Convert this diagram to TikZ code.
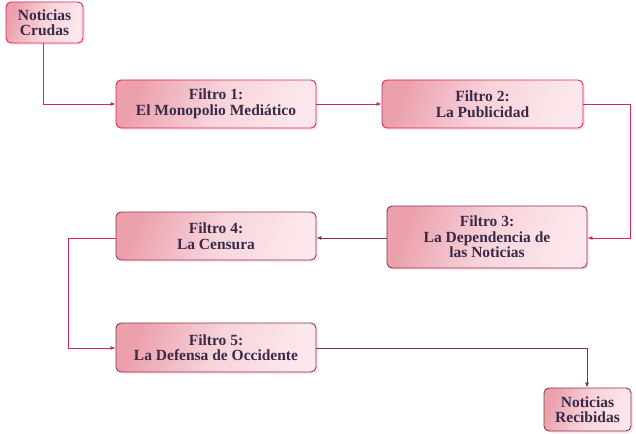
\documentclass[tikz,border=0pt]{standalone}
\usepackage{fontspec}
\setmainfont{Liberation Serif}
\usetikzlibrary{arrows.meta,shadows}
\definecolor{txt}{HTML}{3A2A48}
\definecolor{bordA}{HTML}{D8245E}
\definecolor{bordB}{HTML}{8A3448}
\definecolor{pinkD}{HTML}{EBA0AC}
\definecolor{pinkM}{HTML}{F7D3DA}
\definecolor{pinkL}{HTML}{FCE8EC}
\definecolor{glow}{HTML}{FBE4EE}
\definecolor{lineA}{HTML}{D8245E}
\definecolor{lineB}{HTML}{8A2C44}
\tikzset{
  box/.style={rounded corners=5pt, line width=0.9pt, align=center,
    font=\bfseries\fontsize{15.5}{15.5}\selectfont, text=txt,
    left color=pinkD, right color=pinkL, middle color=pinkM, shading angle=70,
    drop shadow={fill=glow, opacity=1, shadow xshift=2pt, shadow yshift=-2pt},
    inner sep=0pt},
  conA/.style={draw=lineA, line width=0.8pt, -{Latex[length=5pt,width=4pt]}},
  conB/.style={draw=lineB, line width=0.8pt, -{Latex[length=5pt,width=4pt]}},
}
\begin{document}
\begin{tikzpicture}[x=1pt,y=-1pt]
\useasboundingbox (0,0) rectangle (636,433);
\node[box, draw=bordA, minimum width=77pt, minimum height=41pt] (crudas) at (44.5,22.5) {Noticias\\Crudas};
\node[box, draw=bordA, minimum width=200pt, minimum height=48pt] (f1) at (216,104) {Filtro 1:\\El Monopolio Mediático};
\node[box, draw=bordA, minimum width=201pt, minimum height=48pt] (f2) at (482.5,104) {Filtro 2:\\La Publicidad};
\node[box, draw=bordB, minimum width=200pt, minimum height=62pt] (f3) at (487,237) {Filtro 3:\\La Dependencia de\\las Noticias};
\node[box, draw=bordB, minimum width=200pt, minimum height=48pt] (f4) at (216,236) {Filtro 4:\\La Censura};
\node[box, draw=bordB, minimum width=200pt, minimum height=49pt] (f5) at (216,347.5) {Filtro 5:\\La Defensa de Occidente};
\node[box, draw=bordB, minimum width=87pt, minimum height=43pt] (rec) at (587.5,409.5) {Noticias\\Recibidas};
\coordinate (c1) at (43,104);
\coordinate (c2a) at (630,104);
\coordinate (c2b) at (630,238);
\coordinate (c4a) at (68,238);
\coordinate (c4b) at (68,348);
\coordinate (c5) at (587,348);
\draw[conA] (crudas.south -| c1) -- (c1) -- (f1.west |- c1);
\draw[conA] (f1.east) -- (f2.west);
\draw[conA] (f2.east) -- (c2a) -- (c2b) -- (f3.east |- c2b);
\draw[conB] (f3.west |- c2b) -- (f4.east |- c2b);
\draw[conA] (f4.west |- c4a) -- (c4a) -- (c4b) -- (f5.west |- c4b);
\draw[conB] (f5.east |- c5) -- (c5) -- (rec.north -| c5);
\end{tikzpicture}
\end{document}
